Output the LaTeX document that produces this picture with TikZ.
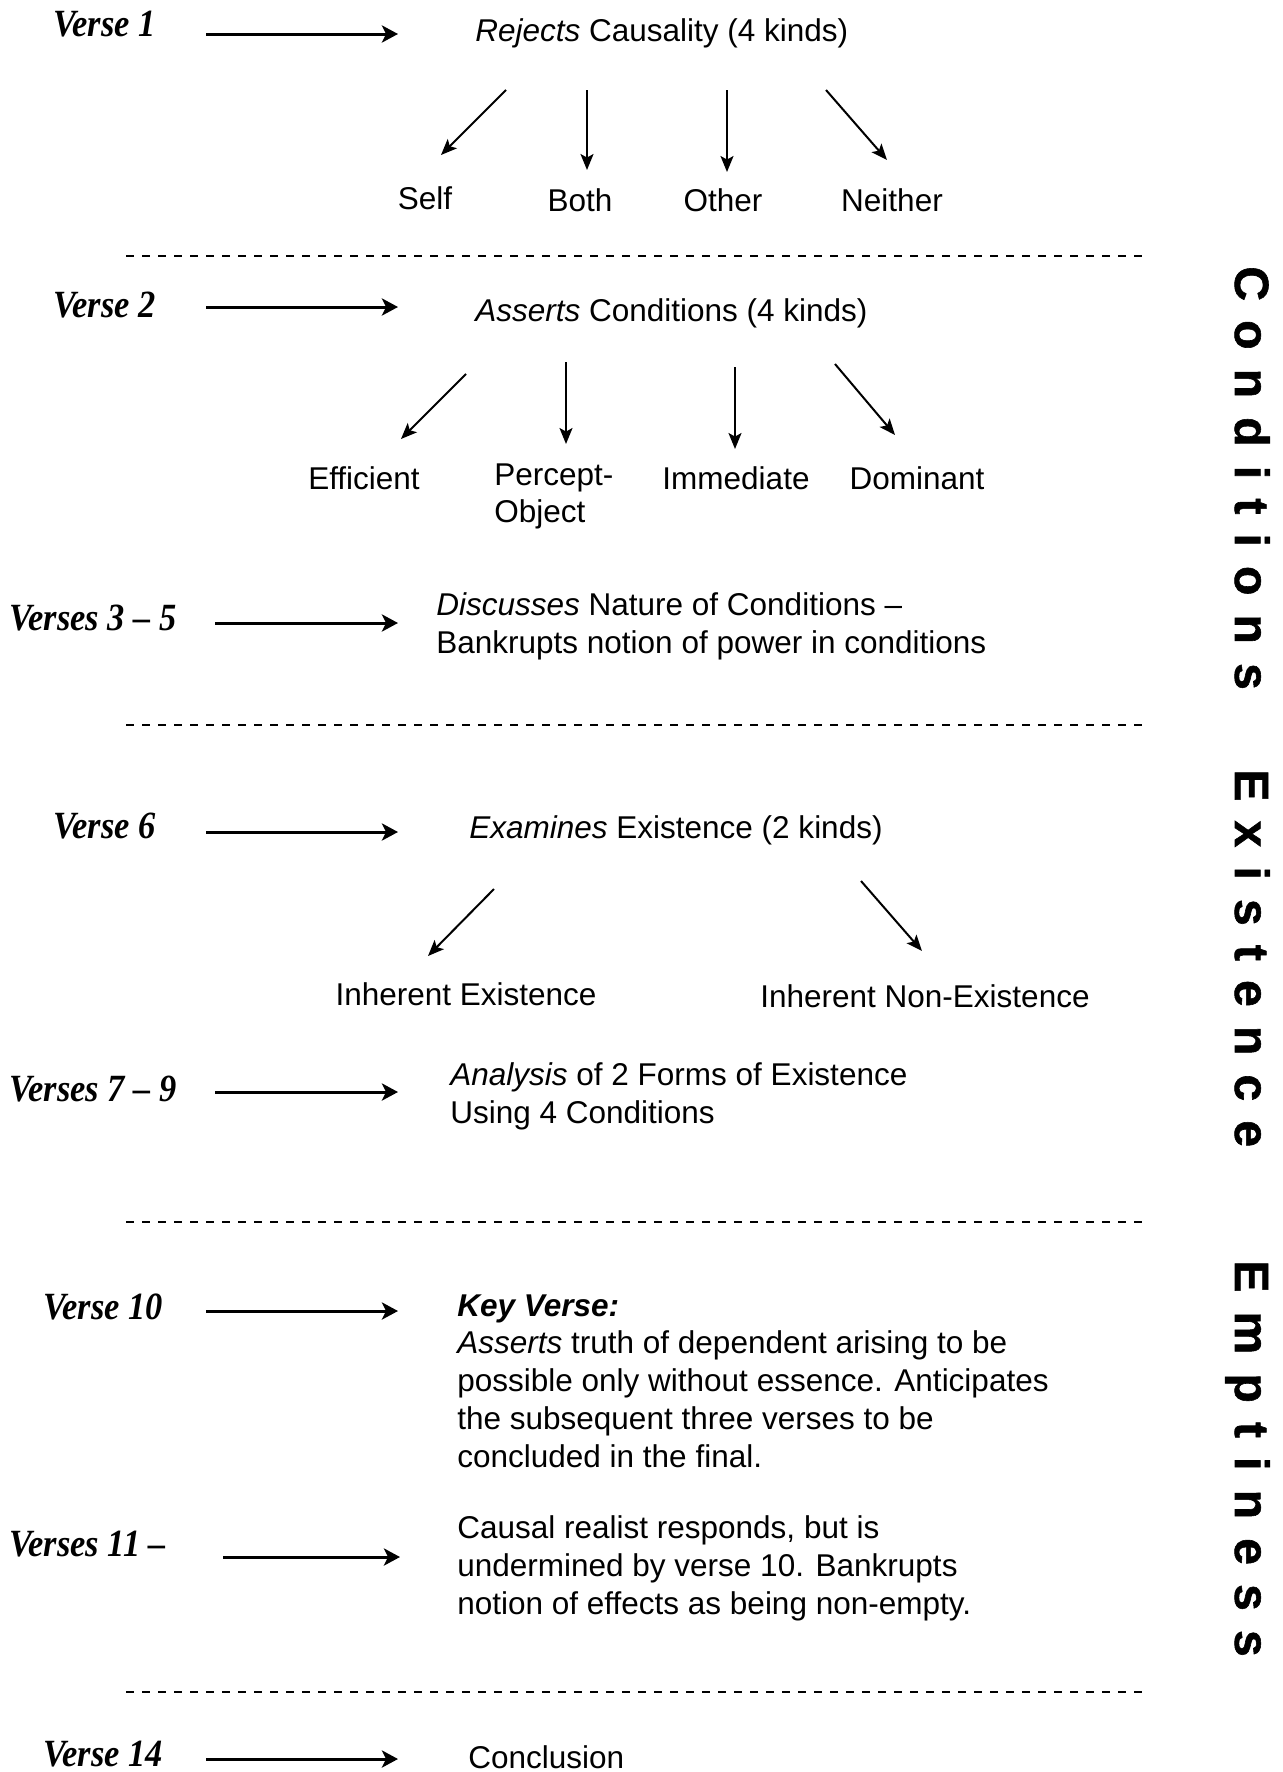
\documentclass[tikz,border=0pt]{standalone}
\usepackage{graphicx}
\usepackage{fontspec}
\setmainfont{Liberation Sans}
\newfontfamily\versefont[Ligatures=TeX]{Liberation Serif}
\newfontfamily\sidefont[LetterSpace=40,BoldFont={Liberation Sans Bold},BoldFeatures={FakeBold=1.2}]{Liberation Sans}
\usetikzlibrary{arrows.meta}
\newcommand{\vlab}[1]{\scalebox{1}[1.12]{#1}}
\begin{document}
\begin{tikzpicture}[x=0.5pt,y=-0.5pt,
  harrow/.style={line width=1.5pt,-{Stealth[length=8pt,width=8.5pt,inset=2pt]}},
  darrow/.style={line width=1pt,-{Stealth[length=8pt,width=6.5pt,inset=1.8pt]}},
  sepline/.style={line width=1.3pt,dash pattern=on 4pt off 4pt},
  lbl/.style={font=\versefont\bfseries\itshape\fontsize{17.2}{20}\selectfont,inner sep=0pt,anchor=base west},
  txt/.style={font=\fontsize{15.75}{18.95}\selectfont,inner sep=0pt,anchor=base west},
  ctr/.style={txt,anchor=base},
  multi/.style={txt,align=left,anchor=north west},
  side/.style={font=\sidefont\bfseries\fontsize{24}{28}\selectfont,inner sep=0pt,anchor=base west,rotate=-90}]
\useasboundingbox (0,0) rectangle (1283,1772);

% verse labels
\node[lbl] (v1) at (53,36) {\vlab{Verse 1}};
\node[lbl] (v2) at (53,317) {\vlab{Verse 2}};
\node[lbl] (v35) at (9,630) {\vlab{Verses 3 – 5}};
\node[lbl] (v6) at (53,838) {\vlab{Verse 6}};
\node[lbl] (v79) at (9,1101) {\vlab{Verses 7 – 9}};
\node[lbl] (v10) at (43,1319) {\vlab{Verse 10}};
\node[lbl] (v11) at (9,1556) {\vlab{Verses 11 –}};
\node[lbl] (v14) at (43,1766) {\vlab{Verse 14}};

% horizontal arrows
\coordinate (h1s) at (206,34);   \coordinate (h1e) at (398,34);
\coordinate (h2s) at (206,307);  \coordinate (h2e) at (398,307);
\coordinate (h3s) at (215,623);  \coordinate (h3e) at (398,623);
\coordinate (h6s) at (206,832);  \coordinate (h6e) at (398,832);
\coordinate (h7s) at (215,1092); \coordinate (h7e) at (398,1092);
\coordinate (h10s) at (206,1311);\coordinate (h10e) at (398,1311);
\coordinate (h11s) at (223,1557);\coordinate (h11e) at (400,1557);
\coordinate (h14s) at (206,1759);\coordinate (h14e) at (398,1759);
\foreach \a in {1,2,3,6,7,10,11,14} \draw[harrow] (h\a s) -- (h\a e);

% section 1
\node[txt] (rej) at (475,41) {\textit{Rejects} Causality (4 kinds)};
\node[ctr] (self) at (425,209) {Self};
\node[ctr] (both) at (580,211) {Both};
\node[ctr] (other) at (723,211) {Other};
\node[ctr] (neither) at (892,211) {Neither};
\coordinate (r1s) at (506,90);  \coordinate (r1e) at (441,155);
\coordinate (r2s) at (587,90);  \coordinate (r2e) at (587,170);
\coordinate (r3s) at (727,90);  \coordinate (r3e) at (727,172);
\coordinate (r4s) at (826,90);  \coordinate (r4e) at (887,160);
\foreach \a in {1,2,3,4} \draw[darrow] (r\a s) -- (r\a e);

\coordinate (d1s) at (126,256); \coordinate (d1e) at (1142,256);
\draw[sepline] (d1s) -- (d1e);

% section 2
\node[txt] (ass) at (475,321) {\textit{Asserts} Conditions (4 kinds)};
\node[ctr] (eff) at (364,489) {Efficient};
\node[multi] (perc) at (494,463) {Percept-\\Object};
\node[ctr] (imm) at (736,489) {Immediate};
\node[ctr] (dom) at (917,489) {Dominant};
\coordinate (c1s) at (466,374); \coordinate (c1e) at (401,439);
\coordinate (c2s) at (566,362); \coordinate (c2e) at (566,444);
\coordinate (c3s) at (735,367); \coordinate (c3e) at (735,449);
\coordinate (c4s) at (835,364); \coordinate (c4e) at (895,435);
\foreach \a in {1,2,3,4} \draw[darrow] (c\a s) -- (c\a e);

\node[multi] (disc) at (436,592) {\textit{Discusses} Nature of Conditions –\\Bankrupts notion of power in conditions};

\coordinate (d2s) at (126,725); \coordinate (d2e) at (1142,725);
\draw[sepline] (d2s) -- (d2e);

% section 3
\node[txt] (exa) at (469,838) {\textit{Examines} Existence (2 kinds)};
\node[ctr] (inex) at (466,1005) {Inherent Existence};
\node[ctr] (innon) at (925,1007) {Inherent Non-Existence};
\coordinate (e1s) at (494,889); \coordinate (e1e) at (428,956);
\coordinate (e2s) at (861,881); \coordinate (e2e) at (922,951);
\foreach \a in {1,2} \draw[darrow] (e\a s) -- (e\a e);

\node[multi] (ana) at (450,1062) {\textit{Analysis} of 2 Forms of Existence\\Using 4 Conditions};

\coordinate (d3s) at (126,1222); \coordinate (d3e) at (1142,1222);
\draw[sepline] (d3s) -- (d3e);

% section 4
\node[multi] (key) at (457,1294) {\textbf{\textit{Key Verse:}}\\\textit{Asserts} truth of dependent arising to be\\possible only without essence. Anticipates\\the subsequent three verses to be\\concluded in the final.};
\node[multi] (caus) at (457,1515) {Causal realist responds, but is\\undermined by verse 10. Bankrupts\\notion of effects as being non-empty.};

\coordinate (d4s) at (126,1692); \coordinate (d4e) at (1142,1692);
\draw[sepline] (d4s) -- (d4e);

\node[txt] (conc) at (468,1768) {Conclusion};

% side titles
\node[side] (sc) at (1235,266) {Conditions};
\node[side] (se) at (1235,769) {Existence};
\node[side] (sm) at (1235,1260) {Emptiness};
\end{tikzpicture}
\end{document}
